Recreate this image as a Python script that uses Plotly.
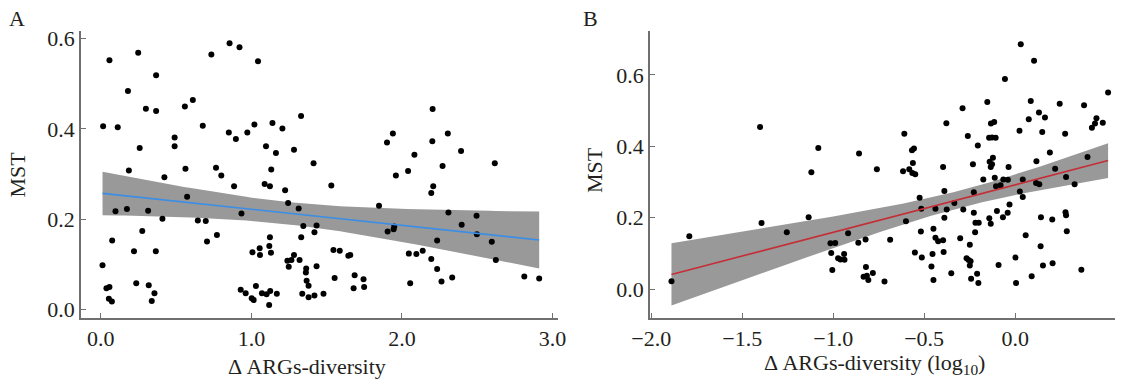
import numpy as np
import plotly.graph_objects as go
from plotly.subplots import make_subplots

# ---------------- Panel A data: delta ARGs-diversity vs MST ----------------
a_x = [0.015, 0.057, 0.248, 0.367, 0.18, 0.112, 0.299, 0.367, 0.558, 0.611,
       0.49, 0.49, 0.258, 0.186, 0.422, 0.562, 0.573, 0.097, 0.173, 0.314,
       0.409, 0.644, 0.075, 0.275, 0.22, 0.365, 0.011, 0.037, 0.057, 0.053,
       0.073, 0.235, 0.318, 0.356, 0.338,
       0.855, 0.921, 0.734, 1.044, 0.677, 0.85, 0.897, 0.973, 1.02, 1.14,
       1.206, 1.33, 1.097, 1.163, 1.283, 1.413, 0.765, 0.8, 1.132, 0.885,
       1.088, 1.123, 1.224, 1.531, 1.244, 1.314, 0.934, 0.697, 0.771, 0.705,
       1.345, 1.433, 1.419, 1.331, 1.123, 1.007, 1.055, 1.057, 1.119, 1.13,
       1.239, 1.266, 1.283, 1.32, 1.248, 1.364, 1.362, 1.433, 1.545, 1.587,
       1.644, 1.657, 1.553, 1.367, 1.38, 1.686, 1.745, 1.679, 1.749, 0.929,
       1.03, 0.962, 1.002, 1.015, 1.07, 1.101, 1.125, 1.169, 1.118, 1.338,
       1.38, 1.419, 1.479,
       1.848, 2.204, 1.94, 1.901, 2.305, 2.202, 2.083, 2.393, 2.27, 2.617,
       2.041, 1.96, 2.208, 2.195, 2.309, 2.496, 2.397, 1.905, 1.949, 1.945,
       2.498, 2.234, 2.597, 2.046, 2.096, 2.138, 2.195, 2.624, 2.234, 2.055,
       2.263, 2.334, 2.813, 2.912]
a_y = [0.406, 0.552, 0.569, 0.519, 0.484, 0.404, 0.445, 0.44, 0.45, 0.464,
       0.381, 0.362, 0.358, 0.308, 0.293, 0.312, 0.25, 0.218, 0.223, 0.219,
       0.201, 0.197, 0.153, 0.174, 0.129, 0.129, 0.098, 0.047, 0.05, 0.024,
       0.018, 0.058, 0.054, 0.036, 0.019,
       0.59, 0.581, 0.565, 0.55, 0.407, 0.392, 0.378, 0.392, 0.41, 0.413,
       0.401, 0.429, 0.362, 0.347, 0.354, 0.324, 0.314, 0.297, 0.31, 0.273,
       0.278, 0.273, 0.264, 0.275, 0.236, 0.224, 0.213, 0.196, 0.165, 0.151,
       0.185, 0.186, 0.171, 0.16, 0.16, 0.127, 0.136, 0.121, 0.141, 0.126,
       0.108, 0.11, 0.121, 0.11, 0.095, 0.091, 0.082, 0.096, 0.132, 0.13,
       0.119, 0.121, 0.07, 0.064, 0.053, 0.076, 0.067, 0.047, 0.05, 0.044,
       0.052, 0.036, 0.025, 0.021, 0.036, 0.034, 0.041, 0.035, 0.01, 0.035,
       0.027, 0.031, 0.035,
       0.23, 0.444, 0.39, 0.37, 0.39, 0.373, 0.343, 0.351, 0.318, 0.324,
       0.307, 0.297, 0.273, 0.258, 0.215, 0.208, 0.188, 0.173, 0.184, 0.178,
       0.167, 0.153, 0.15, 0.124, 0.123, 0.13, 0.112, 0.11, 0.09, 0.058,
       0.062, 0.071, 0.073, 0.069]

# ---------------- Panel B data: log10 delta ARGs-diversity vs MST ----------------
b_x = [-1.889, -1.791,
       -1.402, -1.394, -1.255, -1.082, -1.12, -1.135, -0.858, -0.76, -0.609,
       -0.556, -0.567, -0.562, -0.616, -0.582, -0.565, -0.549, -0.525, -0.516,
       -0.6, -0.518, -0.918, -1.015, -0.989, -0.862, -0.822, -0.687, -1.011,
       -0.94, -0.973, -0.96, -0.938, -1.005, -0.82, -0.833, -0.815, -0.807,
       -0.782, -0.718, -0.551, -0.513,
       0.031, 0.104, -0.056, 0.511, -0.289, -0.153, 0.086, 0.245, 0.379,
       -0.378, -0.133, -0.115, 0.075, 0.131, 0.164, 0.447, 0.439, 0.422,
       0.482, -0.26, -0.143, -0.127, -0.107, 0.024, 0.149, 0.275, -0.205,
       0.191, -0.396, -0.232, -0.14, -0.122, -0.127, -0.134, -0.036, 0.117,
       0.22, 0.398, -0.175, -0.112, -0.065, -0.04, 0.042, 0.28, -0.105,
       -0.08, 0.115, 0.133, 0.327, -0.389, -0.227, 0.026, 0.042, -0.334,
       -0.031, -0.438, -0.376, -0.285, -0.227, -0.1, -0.041, -0.389, -0.142,
       -0.067, 0.142, 0.204, 0.277, 0.28, -0.218, -0.2, -0.134, -0.449,
       -0.22, 0.284, -0.438, -0.423, -0.396, -0.302, 0.058, -0.249, 0.14,
       -0.454, -0.393, -0.267, -0.256, -0.245, -0.249, 0.002, -0.46, -0.091,
       0.153, 0.206, 0.364, -0.351, -0.209, 0.091, -0.449, -0.242, -0.202,
       0.005]
b_y = [0.022, 0.148,
       0.454, 0.185, 0.159, 0.395, 0.327, 0.201, 0.38, 0.336, 0.435,
       0.394, 0.389, 0.353, 0.33, 0.336, 0.325, 0.322, 0.256, 0.225,
       0.19, 0.161, 0.156, 0.128, 0.129, 0.13, 0.139, 0.138, 0.101,
       0.098, 0.086, 0.083, 0.082, 0.053, 0.062, 0.034, 0.037, 0.025,
       0.045, 0.021, 0.102, 0.088,
       0.686, 0.64, 0.589, 0.551, 0.507, 0.524, 0.527, 0.519, 0.515,
       0.465, 0.464, 0.468, 0.476, 0.495, 0.481, 0.479, 0.464, 0.452,
       0.466, 0.429, 0.424, 0.425, 0.424, 0.444, 0.44, 0.435, 0.402,
       0.383, 0.342, 0.35, 0.357, 0.368, 0.35, 0.342, 0.342, 0.358,
       0.337, 0.37, 0.307, 0.312, 0.307, 0.306, 0.307, 0.314, 0.288,
       0.291, 0.297, 0.294, 0.294, 0.275, 0.271, 0.273, 0.258, 0.241,
       0.237, 0.225, 0.223, 0.223, 0.214, 0.219, 0.214, 0.2, 0.198,
       0.201, 0.201, 0.195, 0.215, 0.207, 0.186, 0.186, 0.183, 0.169,
       0.159, 0.162, 0.144, 0.134, 0.137, 0.142, 0.151, 0.124, 0.12,
       0.098, 0.104, 0.086, 0.081, 0.078, 0.066, 0.088, 0.063, 0.067,
       0.066, 0.072, 0.054, 0.044, 0.043, 0.036, 0.025, 0.029, 0.017,
       0.017]

a_xticks = [0.0, 1.0, 2.0, 3.0]
a_yticks = [0.0, 0.2, 0.4, 0.6]
b_xticks = [-2.0, -1.5, -1.0, -0.5, 0.0]
b_yticks = [0.0, 0.2, 0.4, 0.6]
T_CRIT = 1.976  # 95% two-sided t quantile (df ~ 140)


def lm_band(x, y, n_grid=80):
    x = np.asarray(x, float)
    y = np.asarray(y, float)
    n = len(x)
    slope, intercept = np.polyfit(x, y, 1)
    resid = y - (intercept + slope * x)
    s = np.sqrt(np.sum(resid ** 2) / (n - 2))
    xm = x.mean()
    sxx = np.sum((x - xm) ** 2)
    grid = np.linspace(x.min(), x.max(), n_grid)
    fit = intercept + slope * grid
    se = s * np.sqrt(1.0 / n + (grid - xm) ** 2 / sxx)
    return grid, fit, fit - T_CRIT * se, fit + T_CRIT * se


FONT = "Liberation Serif"
W, H = 1132, 382
ML, MR, MT, MB = 81, 9, 31, 64
PW = W - ML - MR
A_RIGHT = 562
B_LEFT = 654.3

fig = make_subplots(rows=1, cols=2)


def add_panel(fig, x, y, col, line_color):
    g, f, lo, hi = lm_band(x, y)
    fig.add_trace(go.Scatter(
        x=np.concatenate([g, g[::-1]]), y=np.concatenate([hi, lo[::-1]]),
        fill="toself", fillcolor="#999999", line=dict(width=0),
        mode="lines", hoverinfo="skip", showlegend=False), row=1, col=col)
    fig.add_trace(go.Scatter(
        x=x, y=y, mode="markers", marker=dict(color="black", size=6),
        showlegend=False), row=1, col=col)
    fig.add_trace(go.Scatter(
        x=g, y=f, mode="lines", line=dict(color=line_color, width=1.6),
        showlegend=False), row=1, col=col)


add_panel(fig, a_x, a_y, 1, "#3a8ee6")
add_panel(fig, b_x, b_y, 2, "#c42f37")

axis_common = dict(
    showline=True, linecolor="#707070", linewidth=1.5, ticks="inside",
    ticklen=5, tickwidth=1.3, tickcolor="#707070", showgrid=False,
    zeroline=False, tickfont=dict(family=FONT, size=22, color="#231f20"),
    mirror=False,
)

fig.update_xaxes(**axis_common)
fig.update_yaxes(**axis_common)

fig.update_xaxes(row=1, col=1, domain=[0, (A_RIGHT - ML) / PW],
                 range=[-0.132, 3.039], tickvals=a_xticks,
                 ticktext=[f"{v:.1f}" for v in a_xticks])
fig.update_yaxes(row=1, col=1, range=[-0.0187, 0.617], tickvals=a_yticks,
                 ticktext=[f"{v:.1f}" for v in a_yticks])
fig.update_xaxes(row=1, col=2, domain=[(B_LEFT - ML) / PW, 1],
                 range=[-2.0076, 0.549], tickvals=b_xticks,
                 ticktext=[f"{v:.1f}".replace("-", "\u2212") for v in b_xticks])
fig.update_yaxes(row=1, col=2, range=[-0.0813, 0.7233], tickvals=b_yticks,
                 ticktext=[f"{v:.1f}" for v in b_yticks])

ann_font = dict(family=FONT, size=22, color="#231f20")
annotations = [
    dict(text="A", x=17 / W, y=1 - 19 / H),
    dict(text="B", x=594 / W, y=1 - 19 / H),
    dict(text="MST", x=17 / W, y=1 - 174 / H, textangle=-90),
    dict(text="MST", x=598 / W, y=1 - 170 / H, textangle=-90),
    dict(text="\u0394 ARGs-diversity", x=309 / W, y=1 - 366 / H),
    dict(text="\u0394 ARGs-diversity (log<sub>10</sub>)", x=881 / W, y=1 - 364 / H),
]
for a in annotations:
    a.update(xref="paper", yref="paper", showarrow=False, font=ann_font,
             xanchor="center", yanchor="middle")

# convert canvas pixel positions to plotting-area paper coords
for a in annotations:
    px = a["x"] * W
    py = (1 - a["y"]) * H
    a["x"] = (px - ML) / PW
    a["y"] = 1 - (py - MT) / (H - MT - MB)

fig.update_layout(
    width=W, height=H, margin=dict(l=ML, r=MR, t=MT, b=MB),
    plot_bgcolor="white", paper_bgcolor="white",
    annotations=annotations, showlegend=False,
    font=dict(family=FONT),
)

fig.write_html(
    "out.html",
    config={"displayModeBar": False},
    post_script="document.body.style.margin='0';document.body.style.overflow='hidden';",
)
